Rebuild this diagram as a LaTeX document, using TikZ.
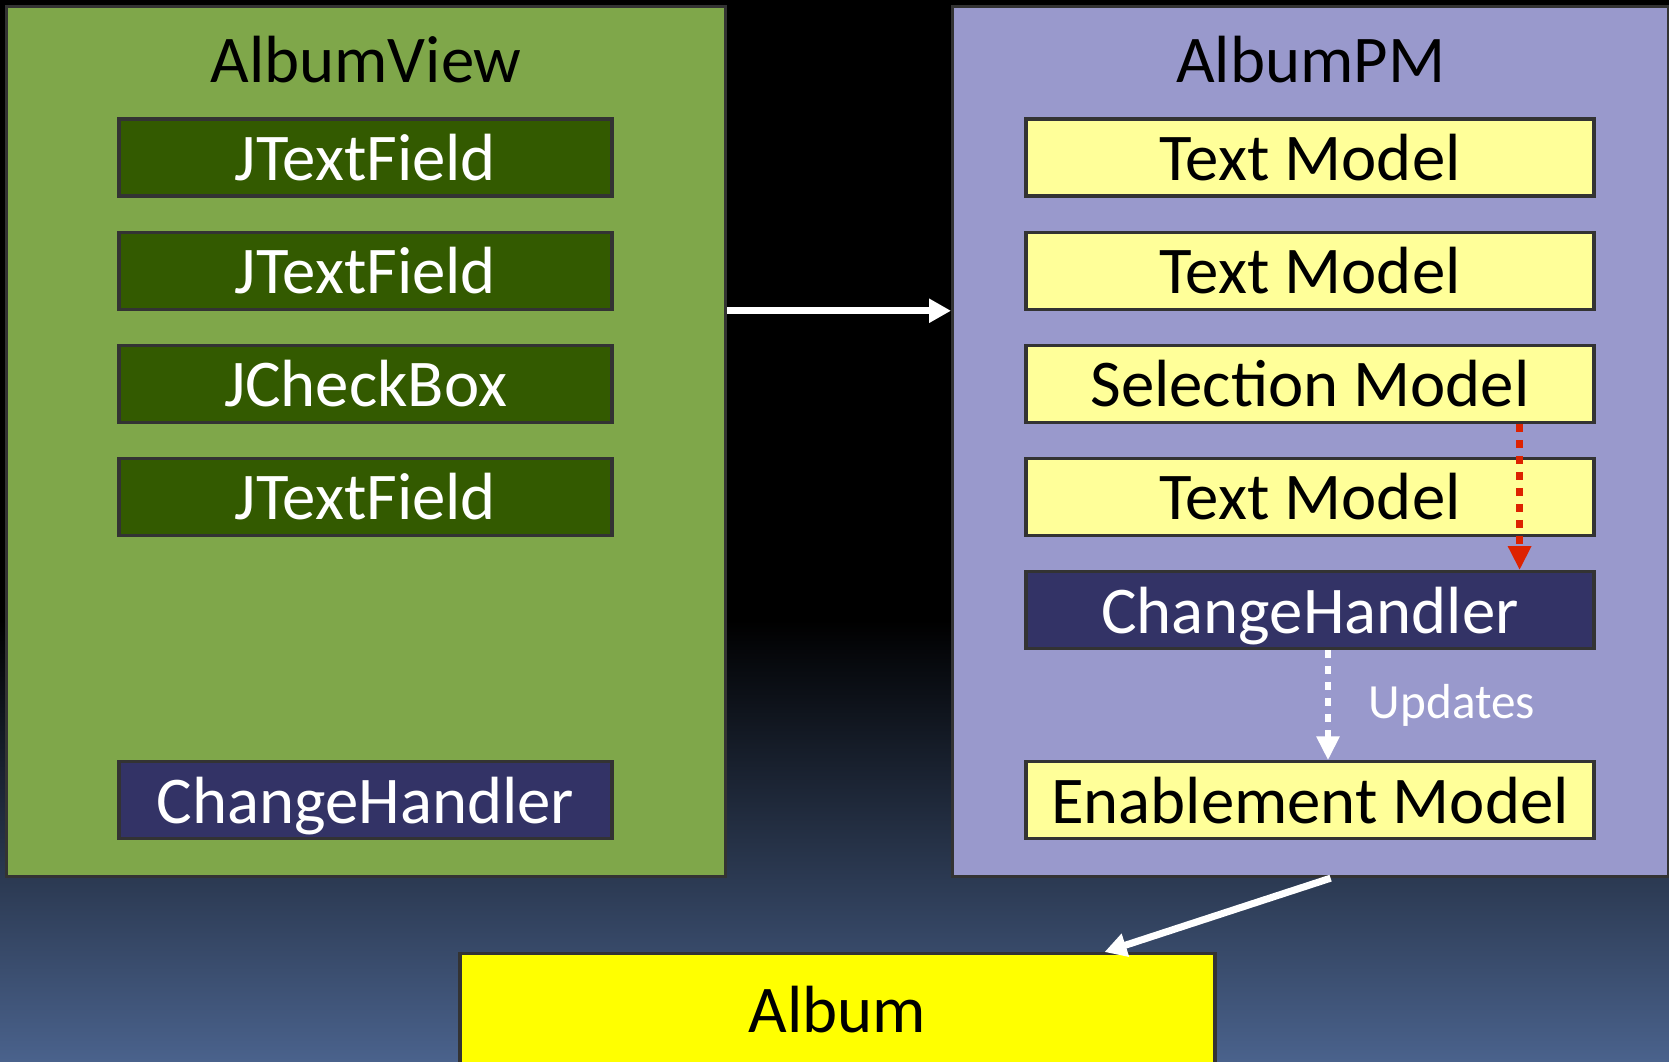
\documentclass[tikz,border=0pt]{standalone}
\usepackage{fontspec}
\setmainfont{Carlito}
\usetikzlibrary{positioning}
\usetikzlibrary{calc}
\usetikzlibrary{arrows.meta}

\definecolor{viewgreen}{HTML}{7FA74A}
\definecolor{fieldgreen}{HTML}{335A00}
\definecolor{pmblue}{HTML}{9999CC}
\definecolor{modelyellow}{HTML}{FFFF99}
\definecolor{handlerblue}{HTML}{333366}
\definecolor{albumyellow}{HTML}{FFFF00}
\definecolor{framegray}{HTML}{333333}
\definecolor{notifyred}{HTML}{DD2200}
\definecolor{bgblue}{RGB}{74,98,140}

\tikzset{
  panel/.style={draw=framegray, line width=0.9pt, anchor=north west, inner sep=0pt},
  title/.style={inner sep=0pt, text height=13pt, text depth=0pt, font=\fontsize{19}{22}\selectfont},
  box/.style={draw=framegray, line width=0.9pt, minimum height=0.77cm, inner sep=0pt,
              text height=13pt, text depth=0pt, font=\fontsize{19}{22}\selectfont},
  field/.style={box, fill=fieldgreen, text=white, minimum width=4.93cm},
  model/.style={box, fill=modelyellow, minimum width=5.68cm},
  handler/.style={fill=handlerblue, text=white},
  flow/.style={white, line width=2pt, -{Triangle[length=2.2mm,width=2.3mm]}},
  notify/.style={line width=0.65mm, dash pattern=on 0.8mm off 0.8mm,
                 -{Triangle[length=2.4mm,width=2.2mm]}}
}

\begin{document}
\begin{tikzpicture}
    \useasboundingbox (0,0) rectangle (16.69,-10.61);
    % background
    \fill [black] (0,0) rectangle (16.69,-10.61);
    \shade [top color=black, bottom color=bgblue] (0,-6.2) rectangle (16.69,-10.61);

    % view side
    \node [panel, fill=viewgreen, minimum width=7.19cm, minimum height=8.7cm] (view) at (0.05,-0.05) { };
    \node [title, below=0.31cm of view.north] (viewtitle) {AlbumView};
    \node [field] (tf1) at (3.655,-1.575) {JTextField};
    \node [field, below=0.33cm of tf1] (tf2) {JTextField};
    \node [field, below=0.33cm of tf2] (cb) {JCheckBox};
    \node [field, below=0.33cm of cb] (tf3) {JTextField};
    \node [field, handler, below=2.23cm of tf3] (viewch) {ChangeHandler};

    % presentation model side
    \node [panel, fill=pmblue, minimum width=7.16cm, minimum height=8.7cm] (pm) at (9.51,-0.05) { };
    \node [title, below=0.31cm of pm.north] (pmtitle) {AlbumPM};
    \node [model] (tm1) at (13.10,-1.575) {Text Model};
    \node [model, below=0.33cm of tm1] (tm2) {Text Model};
    \node [model, below=0.33cm of tm2] (sel) {Selection Model};
    \node [model, below=0.33cm of sel] (tm3) {Text Model};
    \node [model, handler, below=0.33cm of tm3] (ch) {ChangeHandler};
    \node [model, below=1.1cm of ch] (enable) {Enablement Model};

    % domain object
    \node [box, fill=albumyellow, anchor=north, minimum width=7.55cm, minimum height=1.12cm] (album) at (8.375,-9.52) {Album};

    % connectors
    \draw [flow] (tf2.south -| view.east) -- (tf2.south -| pm.west);
    \draw [notify, notifyred] ($(sel.south east)+(-0.76,0)$) -- ($(ch.north east)+(-0.76,0)$);
    \draw [notify, white] ($(ch.south)+(0.18,0)$) --
          node [right=0.26cm, text=white, font=\fontsize{14}{17}\selectfont] {Updates}
          ($(enable.north)+(0.18,0)$);
    \draw [flow] ($(pm.south)+(0.2,0)$) -- ($(album.north)+(2.67,0)$);
\end{tikzpicture}
\end{document}
